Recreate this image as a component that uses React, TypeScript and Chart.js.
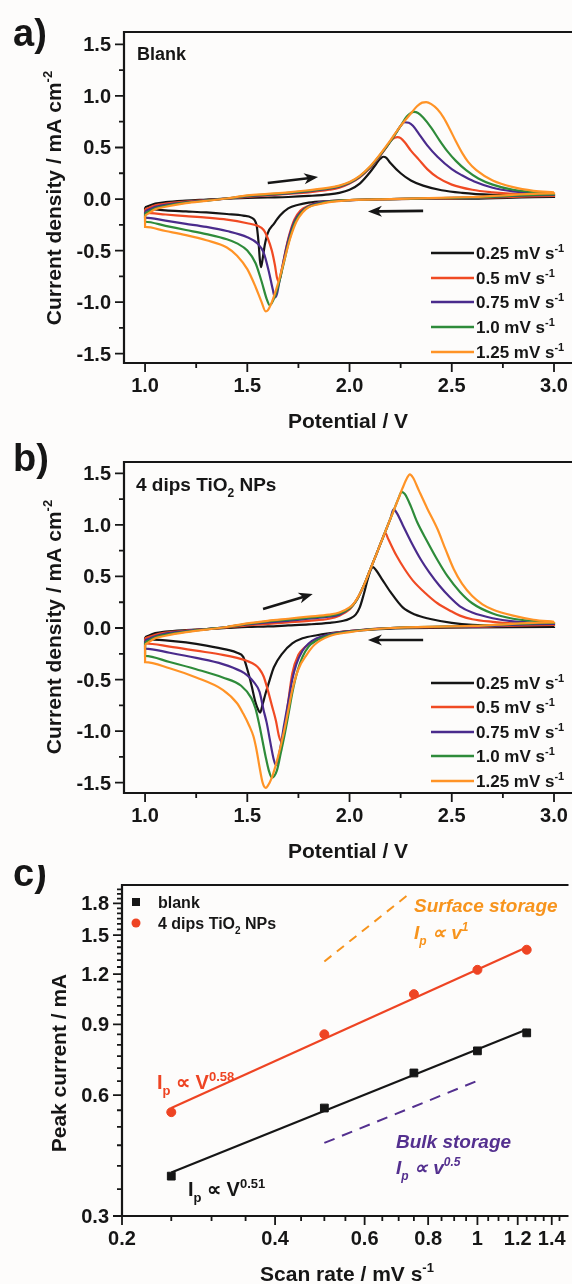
import React, { useEffect, useRef } from 'react';
import { Chart, registerables } from 'chart.js';

Chart.register(...registerables);

const FONT = '"Liberation Sans", Arial, Helvetica, sans-serif';
const INK = '#161616';

// ---------------- shared series info ----------------
const rateNames = ['0.25 mV s', '0.5 mV s', '0.75 mV s', '1.0 mV s', '1.25 mV s'];
const rateColors = ['#151515', '#f04a23', '#4a2b8c', '#2e8b3a', '#ff9326'];

// ---------------- a) Blank : loop = anodic 1.0→3.0 then cathodic 3.0→1.0 ----------------
const blankV025 = [1.0, 1.05, 1.1, 1.2, 1.3, 1.4, 1.5, 1.6, 1.7, 1.8, 1.9, 1.95, 2.0, 2.05, 2.1, 2.13, 2.15, 2.165, 2.18, 2.2, 2.25, 2.3, 2.36, 2.45, 2.55, 2.7, 3.0,
  3.0, 2.6, 2.2, 2.0, 1.9, 1.8, 1.75, 1.7, 1.66, 1.63, 1.6, 1.585, 1.575, 1.567, 1.562, 1.555, 1.545, 1.52, 1.48, 1.4, 1.3, 1.2, 1.1, 1.0];
const blankI025 = [-0.08, -0.045, -0.03, -0.015, -0.005, 0.005, 0.01, 0.015, 0.02, 0.03, 0.045, 0.06, 0.09, 0.15, 0.26, 0.34, 0.39, 0.41, 0.4, 0.35, 0.25, 0.18, 0.13, 0.085, 0.06, 0.04, 0.025,
  0.02, 0.005, 0.0, -0.01, -0.02, -0.035, -0.055, -0.09, -0.16, -0.24, -0.33, -0.45, -0.58, -0.66, -0.6, -0.42, -0.25, -0.18, -0.16, -0.145, -0.13, -0.12, -0.11, -0.095];

const blankV050 = [1.0, 1.05, 1.1, 1.2, 1.3, 1.4, 1.5, 1.6, 1.7, 1.8, 1.9, 1.95, 2.0, 2.05, 2.1, 2.15, 2.18, 2.2, 2.22, 2.235, 2.25, 2.27, 2.3, 2.34, 2.38, 2.43, 2.5, 2.6, 2.7, 2.8, 3.0,
  3.0, 2.6, 2.2, 2.0, 1.9, 1.85, 1.8, 1.76, 1.73, 1.705, 1.685, 1.67, 1.655, 1.645, 1.635, 1.62, 1.6, 1.58, 1.55, 1.5, 1.4, 1.3, 1.2, 1.1, 1.0];
const blankI050 = [-0.1, -0.06, -0.045, -0.025, -0.01, 0.005, 0.02, 0.035, 0.05, 0.065, 0.09, 0.11, 0.15, 0.21, 0.3, 0.42, 0.5, 0.56, 0.595, 0.6, 0.59, 0.55, 0.47, 0.38, 0.29, 0.21, 0.14, 0.09, 0.065, 0.05, 0.035,
  0.03, 0.01, 0.0, -0.01, -0.02, -0.035, -0.065, -0.11, -0.2, -0.35, -0.52, -0.68, -0.8, -0.76, -0.64, -0.5, -0.38, -0.3, -0.26, -0.235, -0.2, -0.18, -0.165, -0.15, -0.135];

const blankV075 = [1.0, 1.05, 1.1, 1.2, 1.3, 1.4, 1.5, 1.6, 1.7, 1.8, 1.9, 1.95, 2.0, 2.05, 2.1, 2.15, 2.2, 2.23, 2.25, 2.27, 2.29, 2.31, 2.34, 2.38, 2.43, 2.5, 2.55, 2.61, 2.7, 2.8, 3.0,
  3.0, 2.6, 2.2, 2.0, 1.9, 1.85, 1.8, 1.765, 1.73, 1.7, 1.675, 1.655, 1.645, 1.635, 1.625, 1.605, 1.58, 1.55, 1.5, 1.4, 1.3, 1.2, 1.1, 1.0];
const blankI075 = [-0.12, -0.075, -0.055, -0.03, -0.012, 0.005, 0.025, 0.04, 0.055, 0.075, 0.1, 0.12, 0.155, 0.215, 0.305, 0.425, 0.56, 0.65, 0.71, 0.745, 0.74, 0.71, 0.63, 0.52, 0.41, 0.29, 0.23, 0.17, 0.11, 0.075, 0.045,
  0.04, 0.015, 0.0, -0.01, -0.02, -0.035, -0.07, -0.12, -0.22, -0.4, -0.62, -0.82, -0.92, -0.955, -0.88, -0.7, -0.52, -0.43, -0.37, -0.31, -0.27, -0.24, -0.21, -0.18];

const blankV100 = [1.0, 1.05, 1.1, 1.2, 1.3, 1.4, 1.5, 1.6, 1.7, 1.8, 1.9, 1.95, 2.0, 2.05, 2.1, 2.15, 2.2, 2.25, 2.28, 2.3, 2.315, 2.335, 2.36, 2.4, 2.44, 2.48, 2.52, 2.57, 2.63, 2.7, 2.8, 3.0,
  3.0, 2.6, 2.2, 2.0, 1.9, 1.85, 1.8, 1.77, 1.735, 1.705, 1.675, 1.65, 1.625, 1.61, 1.595, 1.57, 1.54, 1.5, 1.45, 1.4, 1.3, 1.2, 1.1, 1.0];
const blankI100 = [-0.14, -0.09, -0.065, -0.035, -0.015, 0.005, 0.03, 0.045, 0.06, 0.08, 0.105, 0.125, 0.16, 0.22, 0.31, 0.43, 0.56, 0.71, 0.8, 0.835, 0.845, 0.835, 0.79, 0.69, 0.57, 0.46, 0.37, 0.28, 0.2, 0.14, 0.09, 0.05,
  0.045, 0.015, 0.0, -0.01, -0.025, -0.045, -0.075, -0.12, -0.22, -0.4, -0.65, -0.85, -0.99, -1.03, -0.97, -0.8, -0.62, -0.5, -0.43, -0.39, -0.34, -0.3, -0.26, -0.22];

const blankV125 = [1.0, 1.05, 1.1, 1.2, 1.3, 1.4, 1.5, 1.6, 1.7, 1.8, 1.9, 1.95, 2.0, 2.05, 2.1, 2.15, 2.2, 2.25, 2.3, 2.33, 2.355, 2.375, 2.4, 2.43, 2.46, 2.49, 2.52, 2.55, 2.58, 2.62, 2.7, 2.8, 2.9, 3.0,
  3.0, 2.6, 2.2, 2.0, 1.9, 1.85, 1.8, 1.77, 1.74, 1.71, 1.68, 1.65, 1.62, 1.6, 1.59, 1.57, 1.54, 1.5, 1.45, 1.4, 1.3, 1.2, 1.1, 1.0];
const blankI125 = [-0.16, -0.1, -0.075, -0.04, -0.018, 0.005, 0.035, 0.05, 0.065, 0.085, 0.11, 0.13, 0.165, 0.225, 0.315, 0.435, 0.57, 0.71, 0.83, 0.9, 0.935, 0.94, 0.92, 0.87, 0.79, 0.68, 0.56, 0.45, 0.36, 0.28, 0.18, 0.115, 0.08, 0.065,
  0.055, 0.02, 0.0, -0.01, -0.03, -0.05, -0.08, -0.13, -0.22, -0.38, -0.6, -0.82, -1.0, -1.08, -1.09, -1.0, -0.85, -0.68, -0.55, -0.47, -0.4, -0.35, -0.31, -0.27];

// ---------------- b) 4 dips TiO2 NPs ----------------
const tio2V025 = [1.0, 1.05, 1.1, 1.2, 1.3, 1.4, 1.5, 1.6, 1.7, 1.8, 1.9, 1.97, 2.0, 2.03, 2.05, 2.07, 2.09, 2.105, 2.115, 2.13, 2.16, 2.2, 2.26, 2.32, 2.39, 2.5, 2.6, 2.8, 3.0,
  3.0, 2.6, 2.2, 2.07, 1.95, 1.84, 1.77, 1.72, 1.67, 1.63, 1.61, 1.59, 1.575, 1.563, 1.555, 1.54, 1.52, 1.5, 1.48, 1.45, 1.4, 1.3, 1.2, 1.1, 1.0];
const tio2I025 = [-0.09, -0.05, -0.035, -0.02, -0.01, 0.0, 0.01, 0.015, 0.025, 0.035, 0.05, 0.07, 0.09, 0.13, 0.2, 0.33, 0.48, 0.57, 0.59, 0.56, 0.47, 0.35, 0.2, 0.13, 0.09, 0.05, 0.03, 0.02, 0.015,
  0.01, 0.005, -0.005, -0.02, -0.04, -0.07, -0.1, -0.15, -0.25, -0.38, -0.5, -0.63, -0.74, -0.82, -0.8, -0.72, -0.55, -0.4, -0.28, -0.24, -0.21, -0.17, -0.14, -0.12, -0.11];

const tio2V050 = [1.0, 1.05, 1.1, 1.2, 1.3, 1.4, 1.5, 1.6, 1.7, 1.8, 1.9, 1.95, 2.0, 2.02, 2.04, 2.06, 2.08, 2.1, 2.12, 2.14, 2.16, 2.175, 2.19, 2.23, 2.27, 2.31, 2.37, 2.43, 2.5, 2.54, 2.6, 2.7, 2.8, 3.0,
  3.0, 2.6, 2.2, 2.0, 1.9, 1.83, 1.78, 1.75, 1.72, 1.7, 1.685, 1.672, 1.665, 1.655, 1.64, 1.62, 1.6, 1.58, 1.56, 1.54, 1.5, 1.45, 1.38, 1.25, 1.12, 1.0];
const tio2I050 = [-0.1, -0.065, -0.045, -0.025, -0.01, 0.005, 0.025, 0.04, 0.055, 0.07, 0.09, 0.12, 0.18, 0.23, 0.29, 0.37, 0.46, 0.56, 0.66, 0.76, 0.86, 0.92, 0.86, 0.7, 0.57, 0.46, 0.34, 0.24, 0.16, 0.12, 0.085, 0.06, 0.045, 0.035,
  0.03, 0.01, 0.0, -0.03, -0.06, -0.12, -0.19, -0.26, -0.44, -0.72, -0.95, -1.08, -1.1, -1.05, -0.9, -0.75, -0.6, -0.47, -0.4, -0.36, -0.32, -0.29, -0.26, -0.22, -0.18, -0.15];

const tio2V075 = [1.0, 1.05, 1.1, 1.2, 1.3, 1.4, 1.5, 1.6, 1.7, 1.8, 1.9, 1.95, 2.0, 2.02, 2.04, 2.06, 2.08, 2.1, 2.12, 2.14, 2.16, 2.18, 2.2, 2.215, 2.23, 2.26, 2.3, 2.35, 2.39, 2.44, 2.49, 2.54, 2.6, 2.7, 2.8, 3.0,
  3.0, 2.6, 2.2, 2.0, 1.9, 1.84, 1.8, 1.77, 1.74, 1.72, 1.7, 1.68, 1.66, 1.645, 1.64, 1.63, 1.61, 1.595, 1.58, 1.56, 1.53, 1.5, 1.47, 1.38, 1.25, 1.12, 1.0];
const tio2I075 = [-0.12, -0.08, -0.055, -0.03, -0.01, 0.01, 0.035, 0.055, 0.07, 0.09, 0.11, 0.13, 0.19, 0.23, 0.29, 0.37, 0.46, 0.56, 0.66, 0.76, 0.86, 0.96, 1.06, 1.15, 1.12, 1.0, 0.84, 0.66, 0.54, 0.41, 0.3, 0.21, 0.15, 0.095, 0.065, 0.045,
  0.04, 0.015, 0.0, -0.03, -0.06, -0.1, -0.15, -0.22, -0.35, -0.5, -0.72, -0.94, -1.18, -1.31, -1.33, -1.28, -1.08, -0.92, -0.8, -0.62, -0.52, -0.46, -0.42, -0.35, -0.29, -0.24, -0.2];

const tio2V100 = [1.0, 1.05, 1.1, 1.2, 1.3, 1.4, 1.5, 1.6, 1.7, 1.8, 1.9, 1.95, 2.0, 2.02, 2.04, 2.06, 2.08, 2.1, 2.12, 2.14, 2.16, 2.18, 2.2, 2.22, 2.24, 2.255, 2.27, 2.3, 2.33, 2.38, 2.43, 2.48, 2.54, 2.6, 2.7, 2.8, 3.0,
  3.0, 2.6, 2.2, 2.0, 1.9, 1.84, 1.8, 1.77, 1.745, 1.72, 1.7, 1.68, 1.665, 1.645, 1.62, 1.605, 1.59, 1.575, 1.56, 1.54, 1.52, 1.47, 1.38, 1.25, 1.12, 1.0];
const tio2I100 = [-0.14, -0.09, -0.065, -0.035, -0.012, 0.01, 0.04, 0.065, 0.08, 0.1, 0.12, 0.14, 0.19, 0.23, 0.29, 0.37, 0.46, 0.56, 0.66, 0.76, 0.86, 0.96, 1.06, 1.16, 1.26, 1.32, 1.3, 1.18, 1.03, 0.84, 0.66, 0.5, 0.35, 0.24, 0.14, 0.09, 0.055,
  0.05, 0.02, 0.0, -0.035, -0.07, -0.12, -0.18, -0.28, -0.42, -0.63, -0.85, -1.06, -1.2, -1.38, -1.45, -1.38, -1.25, -1.1, -0.95, -0.78, -0.68, -0.56, -0.48, -0.4, -0.33, -0.27];

const tio2V125 = [1.0, 1.05, 1.1, 1.2, 1.3, 1.4, 1.5, 1.6, 1.7, 1.8, 1.9, 1.95, 2.0, 2.02, 2.04, 2.06, 2.08, 2.1, 2.12, 2.14, 2.16, 2.18, 2.2, 2.22, 2.24, 2.26, 2.28, 2.295, 2.31, 2.34, 2.38, 2.43, 2.47, 2.51, 2.55, 2.6, 2.65, 2.7, 2.8, 2.9, 3.0,
  3.0, 2.6, 2.2, 2.0, 1.9, 1.83, 1.79, 1.75, 1.72, 1.7, 1.68, 1.65, 1.62, 1.6, 1.59, 1.575, 1.56, 1.545, 1.53, 1.51, 1.48, 1.45, 1.38, 1.25, 1.12, 1.0];
const tio2I125 = [-0.16, -0.1, -0.075, -0.04, -0.015, 0.01, 0.045, 0.07, 0.09, 0.11, 0.13, 0.15, 0.2, 0.235, 0.295, 0.37, 0.46, 0.56, 0.66, 0.76, 0.86, 0.96, 1.06, 1.16, 1.26, 1.36, 1.45, 1.49, 1.46, 1.33, 1.16, 0.96, 0.76, 0.57, 0.43, 0.31, 0.23, 0.18, 0.12, 0.08, 0.06,
  0.055, 0.02, 0.0, -0.04, -0.08, -0.16, -0.26, -0.4, -0.6, -0.8, -1.0, -1.25, -1.45, -1.53, -1.55, -1.5, -1.35, -1.18, -1.05, -0.95, -0.83, -0.73, -0.6, -0.48, -0.39, -0.33];

// ---------------- c) peak current vs scan rate ----------------
const scanRates = [0.25, 0.5, 0.75, 1.0, 1.25];
const blankPeak = [0.377, 0.557, 0.681, 0.773, 0.857];
const tio2Peak = [0.544, 0.85, 1.07, 1.23, 1.38];
const fitRates = [0.25, 1.25];
const blankFit = [0.385, 0.874];
const tio2Fit = [0.557, 1.4];
const surfaceRefRates = [0.5, 0.73];
const surfaceRefPeak = [1.29, 1.89];
const bulkRefRates = [0.5, 1.0];
const bulkRefPeak = [0.456, 0.651];

// ---------------- tick values ----------------
const cvPotTicks = [1.0, 1.5, 2.0, 2.5, 3.0];
const cvPotMinor = [1.25, 1.75, 2.25, 2.75];
const cvCurTicks = [-1.5, -1.0, -0.5, 0.0, 0.5, 1.0, 1.5];
const cvCurMinor = [-1.25, -0.75, -0.25, 0.25, 0.75, 1.25];
const rateTicks = [0.2, 0.4, 0.6, 0.8, 1, 1.2, 1.4];
const rateTickLabels = ['0.2', '0.4', '0.6', '0.8', '1', '1.2', '1.4'];
const peakTicks = [0.3, 0.6, 0.9, 1.2, 1.5, 1.8];
const peakTickLabels = ['0.3', '0.6', '0.9', '1.2', '1.5', '1.8'];

const rateMinor: number[] = [];
for (let k = 5; k <= 29; k++) if (k % 4 !== 0) rateMinor.push(k * 0.05);
const peakMinor: number[] = [];
for (let k = 7; k <= 39; k++) if (k % 6 !== 0) peakMinor.push(k * 0.05);

// ---------------- helpers ----------------
type Part = { t: string; sup?: boolean; sub?: boolean };
type TStyle = { size: number; color: string; italic?: boolean; weight?: string };

function fontStr(st: TStyle, size: number) {
  return `${st.italic ? 'italic ' : ''}${st.weight ?? 'bold'} ${size}px ${FONT}`;
}

function drawRich(ctx: CanvasRenderingContext2D, parts: Part[], x: number, y: number, st: TStyle, align: 'left' | 'center' | 'right' = 'left') {
  const small = Math.round(st.size * 0.64);
  const widths = parts.map((p) => {
    ctx.font = fontStr(st, p.sup || p.sub ? small : st.size);
    return ctx.measureText(p.t).width;
  });
  const total = widths.reduce((a, b) => a + b, 0);
  let cx = align === 'center' ? x - total / 2 : align === 'right' ? x - total : x;
  ctx.fillStyle = st.color;
  ctx.textAlign = 'left';
  ctx.textBaseline = 'alphabetic';
  parts.forEach((p, i) => {
    ctx.font = fontStr(st, p.sup || p.sub ? small : st.size);
    const dy = p.sup ? -st.size * 0.42 : p.sub ? st.size * 0.3 : 0;
    ctx.fillText(p.t, cx, y + dy);
    cx += widths[i];
  });
}

function drawArrow(ctx: CanvasRenderingContext2D, x1: number, y1: number, x2: number, y2: number, color: string) {
  const a = Math.atan2(y2 - y1, x2 - x1);
  const head = 14;
  const hw = 5.5;
  const bx = x2 - head * Math.cos(a);
  const by = y2 - head * Math.sin(a);
  ctx.strokeStyle = color;
  ctx.lineWidth = 2.6;
  ctx.beginPath();
  ctx.moveTo(x1, y1);
  ctx.lineTo(bx + 4 * Math.cos(a), by + 4 * Math.sin(a));
  ctx.stroke();
  ctx.fillStyle = color;
  ctx.beginPath();
  ctx.moveTo(x2, y2);
  ctx.lineTo(bx + hw * Math.sin(a), by - hw * Math.cos(a));
  ctx.lineTo(bx + 4 * Math.cos(a), by + 4 * Math.sin(a));
  ctx.lineTo(bx - hw * Math.sin(a), by + hw * Math.cos(a));
  ctx.closePath();
  ctx.fill();
}

function splitLoop(V: number[], I: number[]) {
  const k = V.indexOf(Math.max(...V));
  const fwd = V.slice(0, k + 1).map((v, i) => ({ x: v, y: I[i] }));
  const rev = V.slice(k).map((v, i) => ({ x: v, y: I[k + i] }));
  rev.push({ x: V[0], y: I[0] });
  return [fwd, rev];
}

interface AxisDeco {
  xMajor: number[];
  xMinor: number[];
  xLabels: string[];
  yMajor: number[];
  yMinor: number[];
  yLabels: string[];
  xTitle: Part[];
  yTitle: Part[];
  yTitleX: number;
  yTitleY: number;
  letter: string;
  letterY: number;
  extra?: (ctx: CanvasRenderingContext2D, chart: any) => void;
}

function decoPlugin(id: string, deco: AxisDeco) {
  return {
    id,
    afterDraw(chart: any) {
      const ctx: CanvasRenderingContext2D = chart.ctx;
      const xs = chart.scales.x;
      const ys = chart.scales.y;
      const { left, right, top, bottom } = chart.chartArea;
      ctx.save();
      ctx.strokeStyle = INK;
      ctx.lineWidth = 2.2;
      ctx.beginPath();
      ctx.moveTo(right + 3, top);
      ctx.lineTo(left, top);
      ctx.lineTo(left, bottom);
      ctx.lineTo(right + 3, bottom);
      ctx.stroke();
      ctx.lineWidth = 1.8;
      ctx.beginPath();
      deco.xMinor.forEach((v) => { const p = xs.getPixelForValue(v); ctx.moveTo(p, bottom); ctx.lineTo(p, bottom + 5); });
      deco.xMajor.forEach((v) => { const p = xs.getPixelForValue(v); ctx.moveTo(p, bottom); ctx.lineTo(p, bottom + 9); });
      deco.yMinor.forEach((v) => { const p = ys.getPixelForValue(v); ctx.moveTo(left, p); ctx.lineTo(left - 5, p); });
      deco.yMajor.forEach((v) => { const p = ys.getPixelForValue(v); ctx.moveTo(left, p); ctx.lineTo(left - 9, p); });
      ctx.stroke();
      ctx.fillStyle = INK;
      ctx.font = `bold 20px ${FONT}`;
      ctx.textBaseline = 'alphabetic';
      ctx.textAlign = 'center';
      deco.xMajor.forEach((v, i) => ctx.fillText(deco.xLabels[i], xs.getPixelForValue(v), bottom + 29));
      ctx.textAlign = 'right';
      deco.yMajor.forEach((v, i) => ctx.fillText(deco.yLabels[i], left - 13, ys.getPixelForValue(v) + 7));
      const tst: TStyle = { size: 21, color: INK };
      drawRich(ctx, deco.xTitle, (left + 572) / 2, bottom + 65, tst, 'center');
      ctx.save();
      ctx.translate(deco.yTitleX, deco.yTitleY);
      ctx.rotate(-Math.PI / 2);
      drawRich(ctx, deco.yTitle, 0, 0, tst, 'center');
      ctx.restore();
      ctx.fillStyle = INK;
      ctx.font = `bold 38px ${FONT}`;
      ctx.textAlign = 'left';
      ctx.fillText(deco.letter, 13, deco.letterY);
      if (deco.extra) deco.extra(ctx, chart);
      ctx.restore();
    },
  };
}

function cvDatasets(Vs: number[][], Is: number[][]) {
  const sets: any[] = [];
  for (let i = Vs.length - 1; i >= 0; i--) {
    const [fwd, rev] = splitLoop(Vs[i], Is[i]);
    [fwd, rev].forEach((d) =>
      sets.push({
        data: d,
        showLine: true,
        borderColor: rateColors[i],
        borderWidth: 2.2,
        pointRadius: 0,
        cubicInterpolationMode: 'monotone',
        fill: false,
      })
    );
  }
  return sets;
}

function cvLegend(ctx: CanvasRenderingContext2D, rowsY: number[]) {
  rowsY.forEach((y, i) => {
    ctx.strokeStyle = rateColors[i];
    ctx.lineWidth = 2.5;
    ctx.beginPath();
    ctx.moveTo(431, y);
    ctx.lineTo(474, y);
    ctx.stroke();
    drawRich(ctx, [{ t: rateNames[i] }, { t: '-1', sup: true }], 476, y + 6, { size: 17, color: INK });
  });
}

function cvConfig(Vs: number[][], Is: number[][], pad: any, yMin: number, yMax: number, deco: AxisDeco, id: string) {
  return {
    type: 'scatter',
    data: { datasets: cvDatasets(Vs, Is) },
    options: {
      responsive: false,
      animation: false,
      devicePixelRatio: 1,
      layout: { padding: pad },
      scales: {
        x: { type: 'linear', display: false, min: 0.897, max: 3.088 },
        y: { type: 'linear', display: false, min: yMin, max: yMax },
      },
      plugins: { legend: { display: false }, tooltip: { enabled: false } },
    },
    plugins: [decoPlugin(id, deco)],
  };
}

const cvYLabels = cvCurTicks.map((v) => v.toFixed(1));
const cvXLabels = cvPotTicks.map((v) => v.toFixed(1));
const potTitle: Part[] = [{ t: 'Potential / V' }];
const curTitle: Part[] = [{ t: 'Current density / mA cm' }, { t: '-2', sup: true }];

function buildA() {
  const deco: AxisDeco = {
    xMajor: cvPotTicks, xMinor: cvPotMinor, xLabels: cvXLabels,
    yMajor: cvCurTicks, yMinor: cvCurMinor, yLabels: cvYLabels,
    xTitle: potTitle, yTitle: curTitle, yTitleX: 61, yTitleY: 198,
    letter: 'a)', letterY: 46,
    extra: (ctx, chart) => {
      const xs = chart.scales.x, ys = chart.scales.y;
      drawRich(ctx, [{ t: 'Blank' }], 137, 60, { size: 18, color: INK });
      drawArrow(ctx, xs.getPixelForValue(1.6), ys.getPixelForValue(0.155), xs.getPixelForValue(1.846), ys.getPixelForValue(0.213), INK);
      drawArrow(ctx, xs.getPixelForValue(2.36), ys.getPixelForValue(-0.115), xs.getPixelForValue(2.09), ys.getPixelForValue(-0.12), INK);
      cvLegend(ctx, [253, 278, 302, 327, 352]);
    },
  };
  return cvConfig([blankV025, blankV050, blankV075, blankV100, blankV125], [blankI025, blankI050, blankI075, blankI100, blankI125],
    { left: 124, top: 32, right: 0, bottom: 77 }, -1.59, 1.62, deco, 'decoA');
}

function buildB() {
  const T = 440;
  const deco: AxisDeco = {
    xMajor: cvPotTicks, xMinor: cvPotMinor, xLabels: cvXLabels,
    yMajor: cvCurTicks, yMinor: cvCurMinor, yLabels: cvYLabels,
    xTitle: potTitle, yTitle: curTitle, yTitleX: 61, yTitleY: 627 - T,
    letter: 'b)', letterY: 471 - T,
    extra: (ctx, chart) => {
      const xs = chart.scales.x, ys = chart.scales.y;
      drawRich(ctx, [{ t: '4 dips TiO' }, { t: '2', sub: true }, { t: ' NPs' }], 136, 491 - T, { size: 19, color: INK });
      drawArrow(ctx, xs.getPixelForValue(1.577), ys.getPixelForValue(0.184), xs.getPixelForValue(1.82), ys.getPixelForValue(0.33), INK);
      drawArrow(ctx, xs.getPixelForValue(2.36), ys.getPixelForValue(-0.116), xs.getPixelForValue(2.09), ys.getPixelForValue(-0.116), INK);
      cvLegend(ctx, [683, 707, 732, 756, 781].map((y) => y - T));
    },
  };
  return cvConfig([tio2V025, tio2V050, tio2V075, tio2V100, tio2V125], [tio2I025, tio2I050, tio2I075, tio2I100, tio2I125],
    { left: 124, top: 22, right: 0, bottom: 72 }, -1.6, 1.61, deco, 'decoB');
}

const RED = '#ee4423';
const ORANGE = '#f7941d';
const PURPLE = '#54308f';

function buildC() {
  const T = 865;
  const pts = (xv: number[], yv: number[]) => xv.map((x, i) => ({ x, y: yv[i] }));
  const deco: AxisDeco = {
    xMajor: rateTicks, xMinor: rateMinor, xLabels: rateTickLabels,
    yMajor: peakTicks, yMinor: peakMinor, yLabels: peakTickLabels,
    xTitle: [{ t: 'Scan rate / mV s' }, { t: '-1', sup: true }],
    yTitle: [{ t: 'Peak current / mA' }], yTitleX: 66, yTitleY: 1063 - T,
    letter: 'c)', letterY: 886 - T,
    extra: (ctx) => {
      ctx.fillStyle = INK;
      ctx.fillRect(132, 902 - T - 4, 8, 8);
      ctx.fillStyle = RED;
      ctx.beginPath();
      ctx.arc(136, 923 - T, 4.5, 0, Math.PI * 2);
      ctx.fill();
      drawRich(ctx, [{ t: 'blank' }], 158, 908 - T, { size: 16, color: INK });
      drawRich(ctx, [{ t: '4 dips TiO' }, { t: '2', sub: true }, { t: ' NPs' }], 158, 929 - T, { size: 16, color: INK });
      drawRich(ctx, [{ t: 'Surface storage' }], 414, 912 - T, { size: 19, color: ORANGE, italic: true });
      drawRich(ctx, [{ t: 'I' }, { t: 'p', sub: true }, { t: ' \u221D v' }, { t: '1', sup: true }], 414, 939 - T, { size: 19, color: ORANGE, italic: true });
      drawRich(ctx, [{ t: 'I' }, { t: 'p', sub: true }, { t: ' \u221D V' }, { t: '0.58', sup: true }], 157, 1089 - T, { size: 20, color: RED });
      drawRich(ctx, [{ t: 'I' }, { t: 'p', sub: true }, { t: ' \u221D V' }, { t: '0.51', sup: true }], 188, 1196 - T, { size: 20, color: INK });
      drawRich(ctx, [{ t: 'Bulk storage' }], 396, 1148 - T, { size: 19, color: PURPLE, italic: true });
      drawRich(ctx, [{ t: 'I' }, { t: 'p', sub: true }, { t: ' \u221D v' }, { t: '0.5', sup: true }], 396, 1174 - T, { size: 19, color: PURPLE, italic: true });
    },
  };
  return {
    type: 'scatter',
    data: {
      datasets: [
        { data: pts(scanRates, tio2Peak), pointStyle: 'circle', pointRadius: 4.5, backgroundColor: RED, borderColor: RED, showLine: false },
        { data: pts(scanRates, blankPeak), pointStyle: 'rect', pointRadius: 5.5, backgroundColor: INK, borderColor: INK, showLine: false },
        { data: pts(fitRates, tio2Fit), showLine: true, pointRadius: 0, borderColor: RED, borderWidth: 2.2 },
        { data: pts(fitRates, blankFit), showLine: true, pointRadius: 0, borderColor: INK, borderWidth: 2.2 },
        { data: pts(surfaceRefRates, surfaceRefPeak), showLine: true, pointRadius: 0, borderColor: ORANGE, borderWidth: 2, borderDash: [9, 7] },
        { data: pts(bulkRefRates, bulkRefPeak), showLine: true, pointRadius: 0, borderColor: PURPLE, borderWidth: 2, borderDash: [11, 8] },
      ],
    },
    options: {
      responsive: false,
      animation: false,
      devicePixelRatio: 1,
      layout: { padding: { left: 122, top: 20, right: 0, bottom: 68 } },
      scales: {
        x: { type: 'logarithmic', display: false, min: 0.2, max: 1.49 },
        y: { type: 'logarithmic', display: false, min: 0.3, max: 2.0 },
      },
      plugins: { legend: { display: false }, tooltip: { enabled: false } },
    },
    plugins: [decoPlugin('decoC', deco)],
  };
}

function ChartCanvas({ top, height, build }: { top: number; height: number; build: () => any }) {
  const ref = useRef<HTMLCanvasElement>(null);
  useEffect(() => {
    const chart = new Chart(ref.current as HTMLCanvasElement, build());
    return () => chart.destroy();
  }, []);
  return (
    <canvas
      ref={ref}
      width={572}
      height={height}
      style={{ position: 'absolute', left: 0, top, width: 572, height, display: 'block' }}
    />
  );
}

export default function App() {
  return (
    <div style={{ position: 'absolute', left: 0, top: 0, width: 572, height: 1284, background: '#fdfcfb', overflow: 'hidden' }}>
      <ChartCanvas top={0} height={440} build={buildA} />
      <ChartCanvas top={440} height={425} build={buildB} />
      <ChartCanvas top={865} height={419} build={buildC} />
    </div>
  );
}
